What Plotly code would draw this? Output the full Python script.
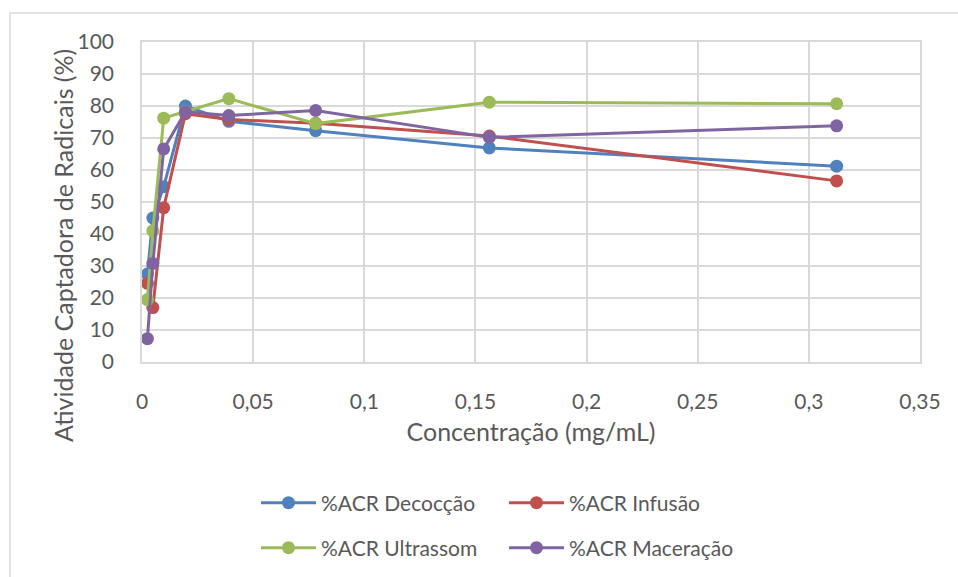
import plotly.graph_objects as go

# Concentrations from the serial dilution (mg/mL)
concentracao = [0.3125, 0.15625, 0.078125, 0.0390625, 0.01953125, 0.009765625, 0.0048828125, 0.00244140625]

# Radical scavenging activity (%) for each extraction method
acr_decoccao = [61.2, 66.9, 72.3, 75.2, 80.0, 54.8, 45.0, 27.5]
acr_infusao = [56.6, 70.6, 74.6, 75.8, 77.6, 48.2, 17.0, 24.6]
acr_ultrassom = [80.7, 81.2, 74.5, 82.3, 78.3, 76.2, 41.0, 19.5]
acr_maceracao = [73.8, 70.2, 78.6, 77.0, 78.2, 66.6, 30.8, 7.3]

series = [
    ("%ACR Decocção", acr_decoccao, "#4f81bd", "legend"),
    ("%ACR Infusão", acr_infusao, "#c0504d", "legend"),
    ("%ACR Ultrassom", acr_ultrassom, "#9bbb59", "legend2"),
    ("%ACR Maceração", acr_maceracao, "#8064a2", "legend2"),
]

font_family = "Lato, 'Open Sans', sans-serif"
text_color = "#595959"
grid_color = "#d9d9d9"

fig = go.Figure()
for name, values, color, leg in series:
    fig.add_trace(go.Scatter(
        x=concentracao, y=values, name=name, mode="lines+markers",
        line=dict(color=color, width=3),
        marker=dict(color=color, size=13),
        legend=leg,
    ))

legend_style = dict(
    orientation="h", xref="container", yref="container",
    xanchor="left", yanchor="middle",
    entrywidth=178, entrywidthmode="pixels",
    font=dict(size=21, color=text_color),
    itemwidth=55, bgcolor="rgba(0,0,0,0)",
)

fig.update_layout(
    width=958, height=577,
    margin=dict(l=142, r=38, t=42, b=215, autoexpand=False),
    paper_bgcolor="white", plot_bgcolor="white",
    separators=", ",
    font=dict(family=font_family, size=21, color=text_color),
    legend=dict(legend_style, x=256 / 958, y=1 - 503 / 577),
    legend2=dict(legend_style, x=256 / 958, y=1 - 548 / 577),
    showlegend=True,
)

fig.update_xaxes(
    range=[0, 0.35], dtick=0.05, tick0=0,
    showgrid=True, gridcolor=grid_color, gridwidth=1.5,
    showline=True, linecolor=grid_color, linewidth=1.5, mirror=True,
    zeroline=False, ticks="", ticklabelstandoff=20,
    title=dict(text="Concentração (mg/mL)", font=dict(size=25, color=text_color), standoff=12),
)
fig.update_yaxes(
    range=[0, 100], dtick=10, tick0=0,
    showgrid=True, gridcolor=grid_color, gridwidth=1.5,
    showline=True, linecolor=grid_color, linewidth=1.5, mirror=True,
    zeroline=False, ticks="", ticklabelstandoff=22,
)

# Vertical axis title, placed as a rotated annotation
fig.add_annotation(
    text="Atividade Captadora de Radicais (%)", textangle=-90,
    xref="paper", yref="paper", x=(63 - 142) / 778, y=(362 - 246) / 320,
    xanchor="center", yanchor="middle", showarrow=False,
    font=dict(size=25, color=text_color, family=font_family),
)

# Outer chart frame
fig.add_shape(
    type="rect", xref="paper", yref="paper",
    x0=(10 - 142) / 778, x1=(975 - 142) / 778,
    y0=(362 - 600) / 320, y1=(362 - 13) / 320,
    line=dict(color="#d9d9d9", width=1.5), fillcolor="rgba(0,0,0,0)", layer="below",
)

fig.write_html("out.html")
